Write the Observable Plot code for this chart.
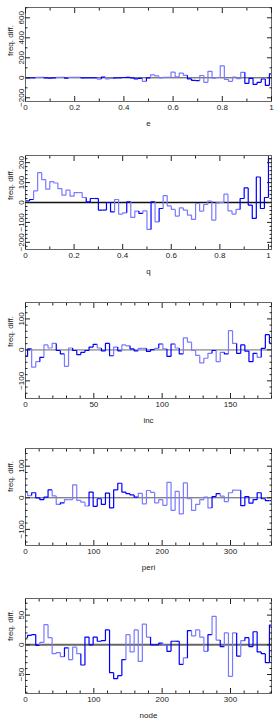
<!DOCTYPE html>
<html><head><meta charset="utf-8">
<script src="https://cdn.jsdelivr.net/npm/d3@7"></script>
<script src="https://cdn.jsdelivr.net/npm/@observablehq/plot@0.6"></script>
<style>body{margin:0;background:#fff;width:274px}svg{display:block}</style>
</head><body><div id="chart"></div>
<script>
// histogram differences per bin (61 bins each)
const eVals = [0,0,0,5,5,0,-3,0,5,5, -3,5,5,5,0,0,0,0,-13,7, -10,-7,0,0,3,5,0,-10,-5,-35, 0,30,20,0,5,5,57,10,47,25, -10,-25,-28,23,-45,65,-3,3,120,-15, -35,8,-8,55,-55,-5,-65,-45,-12,-75, 40];
const eSig  = [1,1,1,0,0,1,1,1,0,0, 1,0,0,0,1,1,1,1,0,1, 0,0,1,1,1,1,1,1,1,0, 1,0,0,0,0,0,0,0,0,0, 1,1,1,0,0,0,0,0,0,0, 0,0,0,0,1,1,1,1,1,1, 1];
const qVals = [8,15,58,150,115,67,105,98,70,37, 62,32,50,50,25,3,20,20,-38,-38, 0,-47,15,-58,-52,3,-75,-43,-55,-42, -135,3,-97,-30,35,-17,-35,-68,-27,-38, -63,-85,-5,-43,-10,7,-88,-2,0,42, -42,-58,-35,20,73,-13,-80,128,-30,25, 220];
const qSig  = [1,1,0,0,0,0,0,0,0,0, 0,0,0,0,0,1,1,1,1,1, 1,1,0,0,0,1,0,0,1,0, 0,1,0,1,0,0,0,0,0,0, 0,0,0,0,0,0,0,0,0,0, 0,0,0,1,1,1,1,1,1,1, 1];
const incVals = [-21,3,-56,-38,-24,16,6,21,-2,-13, -53,6,-2,-15,-8,-2,9,18,6,-3, 21,-19,9,-3,16,13,3,-3,5,5, -5,1,5,19,3,-21,19,6,-13,39, 25,-2,-18,-42,-27,-11,-2,-38,-8,-13, 62,21,-11,16,-4,-38,-11,-24,5,49, 22];
const incSig  = [1,1,0,0,1,0,0,0,1,1, 0,0,1,1,1,1,1,1,0,1, 1,1,0,1,0,0,1,1,0,0, 1,1,0,1,0,1,1,0,1,0, 0,0,0,0,0,0,1,0,0,1, 0,0,1,1,1,1,1,0,1,1, 1];
const periVals = [18,7,16,0,-6,2,25,6,-21,-16, -6,-6,41,-8,-14,-26,18,-27,-3,-21, 15,-32,25,46,18,13,9,2,14,-19, 23,17,-16,-6,-24,49,-40,20,-51,47, -3,-40,-21,-6,2,-32,4,13,5,-12, 16,24,24,-25,4,-17,-6,16,-3,-9, -9];
const periSig  = [1,0,1,1,1,1,1,0,0,1, 0,0,0,0,0,0,1,1,1,1, 1,1,1,1,1,1,1,1,0,0, 0,0,0,0,0,0,0,0,0,0, 0,0,0,0,0,0,1,1,0,0, 0,0,0,1,1,1,1,1,1,1, 1];
const nodeVals = [12,16,17,-1,4,34,12,-15,-13,-20, -5,-25,-4,-15,-34,13,0,13,6,7, 25,-47,-57,-52,-25,17,-12,25,-28,35, 13,0,0,3,-1,-11,6,6,-33,-22, 24,15,25,13,-11,17,48,8,-3,20, -53,20,-19,7,12,-3,22,-12,-15,-30, 33];
const nodeSig  = [0,1,1,1,0,0,0,0,0,0, 1,0,0,0,1,1,1,1,1,1, 1,1,1,1,1,0,0,0,0,0, 0,1,1,1,0,1,1,1,1,0, 1,0,0,0,0,1,0,0,1,0, 0,0,1,0,1,1,1,1,1,1, 1];

// tick labels
const eTicks = [0, 0.2, 0.4, 0.6, 0.8, 1];
const eYTicks = [-200, 0, 200, 400, 600];
const qTicks = [0, 0.2, 0.4, 0.6, 0.8, 1];
const qYTicks = [-200, -100, 0, 100, 200];
const incTicks = [0, 50, 100, 150];
const incYTicks = [-100, 0, 100];
const periTicks = [0, 100, 200, 300];
const periYTicks = [-100, 0, 100];
const nodeTicks = [0, 100, 200, 300];
const nodeYTicks = [-50, 0, 50];

const DARK = "#0000ff", LIGHT = "#7a7aff";
const minor = (lo, hi, s, major) => d3.range(lo, hi + s / 2, s).map(v => +v.toFixed(6)).filter(v => !major.some(m => Math.abs(m - v) < 1e-9));

const panels = [
  {title: "e", vals: eVals, sig: eSig, step: 1/60, shift: -0.5, xd: [0, 1], yd: [-237, 703], xt: eTicks, yt: eYTicks,
   xm: minor(0, 1, 0.1, eTicks), ym: minor(-200, 700, 100, eYTicks), h: 148, fh: 94, zc: "#444", zw: 1, ld: 33},
  {title: "q", vals: qVals, sig: qSig, step: 1/60, shift: 0, xd: [0, 1.0125], yd: [-236, 236], xt: qTicks, yt: qYTicks,
   xm: minor(0, 1, 0.1, qTicks), ym: minor(-220, 220, 20, qYTicks), h: 147, fh: 94, zc: "#111", zw: 1.3, ld: 29},
  {title: "inc", vals: incVals, sig: incSig, step: 3, shift: -0.5, xd: [0, 180], yd: [-157, 153], xt: incTicks, yt: incYTicks,
   xm: minor(0, 180, 10, incTicks), ym: minor(-140, 140, 20, incYTicks), h: 146, fh: 96, zc: "#aaa", zw: 1.8, ld: 29},
  {title: "peri", vals: periVals, sig: periSig, step: 6, shift: -0.5, xd: [0, 360], yd: [-151, 156], xt: periTicks, yt: periYTicks,
   xm: minor(0, 360, 20, periTicks), ym: minor(-140, 140, 20, periYTicks), h: 150, fh: 97, zc: "#555", zw: 1, ld: 28},
  {title: "node", vals: nodeVals, sig: nodeSig, step: 6, shift: -0.5, xd: [0, 360], yd: [-82, 78], xt: nodeTicks, yt: nodeYTicks,
   xm: minor(0, 360, 20, nodeTicks), ym: minor(-80, 70, 10, nodeYTicks), h: 129, fh: 95, zc: "#666", zw: 2, ld: 27}
];

const chart = document.getElementById("chart");
const blank = () => "";
const FS = 8;
for (const p of panels) {
  const rows = p.vals.map((v, k) => ({
    x1: (k + p.shift) * p.step, x2: (k + p.shift + 1) * p.step,
    prev: k ? p.vals[k - 1] : v, v, s: p.sig[k]
  }));
  const fmt = d => d3.format("~g")(d).replace("-", "\u2212");
  const svg = Plot.plot({
    width: 274, height: p.h,
    marginTop: 7, marginBottom: p.h - 7 - p.fh, marginLeft: 25, marginRight: 3,
    x: {domain: p.xd}, y: {domain: p.yd},
    color: {type: "ordinal", domain: [0, 1], range: [LIGHT, DARK]},
    style: {fontFamily: "'Liberation Sans', Arial, sans-serif", fontSize: FS + "px", color: "#222", background: "#fff"},
    marks: [
      Plot.ruleY([0], {stroke: p.zc, strokeWidth: p.zw}),
      Plot.link(rows, {x1: "x1", y1: "prev", x2: "x2", y2: "v", curve: "step-before", stroke: "s", strokeWidth: 1.2, clip: true}),
      Plot.frame({stroke: "#666", strokeWidth: 1}),
      Plot.axisX({anchor: "bottom", ticks: p.xt, tickSize: -5, tickFormat: blank, label: null, stroke: "#222"}),
      Plot.axisX({anchor: "top", ticks: p.xt, tickSize: -5, tickFormat: blank, label: null, stroke: "#222"}),
      Plot.axisX({anchor: "bottom", ticks: p.xm, tickSize: -2.5, tickFormat: blank, label: null, stroke: "#222"}),
      Plot.axisX({anchor: "top", ticks: p.xm, tickSize: -2.5, tickFormat: blank, label: null, stroke: "#222"}),
      Plot.axisY({anchor: "left", ticks: p.yt, tickSize: -5, tickFormat: blank, label: null, stroke: "#222"}),
      Plot.axisY({anchor: "right", ticks: p.yt, tickSize: -5, tickFormat: blank, label: null, stroke: "#222"}),
      Plot.axisY({anchor: "left", ticks: p.ym, tickSize: -2.5, tickFormat: blank, label: null, stroke: "#222"}),
      Plot.axisY({anchor: "right", ticks: p.ym, tickSize: -2.5, tickFormat: blank, label: null, stroke: "#222"}),
      Plot.axisX({anchor: "bottom", ticks: p.xt, tickSize: 0, tickPadding: 3, tickFormat: fmt, label: null, fontSize: FS}),
      Plot.axisY({anchor: "left", ticks: p.yt, tickSize: 0, tickPadding: 2, tickRotate: -90, tickFormat: fmt, label: null, fontSize: FS}),
      Plot.text([p.title], {text: d => d, frameAnchor: "bottom", dy: 24, fontSize: FS, fill: "#222"}),
      Plot.text(["freq. diff."], {text: d => d, frameAnchor: "top-left", dx: -15, dy: p.ld, rotate: -90,
        textAnchor: "middle", lineAnchor: "middle", fontSize: FS, fill: "#222"})
    ]
  });
  chart.appendChild(svg);
}
</script></body></html>
